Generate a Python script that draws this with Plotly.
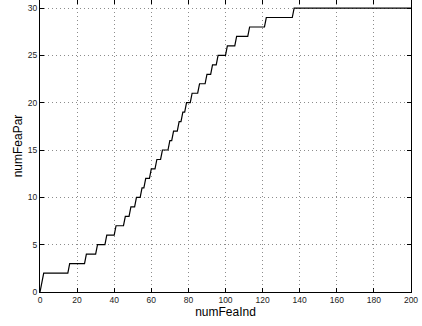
import plotly.graph_objects as go

# Vertices of the step curve (numFeaInd, numFeaPar)
num_fea_ind = [0, 2, 15, 16, 24, 25, 30, 31, 35, 36, 40, 41, 45, 46, 48, 49,
               51, 52, 54, 55, 56, 57, 59, 60, 62, 63, 65, 66, 69, 70, 71, 72,
               74, 75, 76, 77, 78, 79, 81, 82, 85, 86, 89, 90, 92, 93, 95, 96,
               100, 101, 105, 106, 112, 113, 121, 122, 136, 137, 200]
num_fea_par = [0, 2, 2, 3, 3, 4, 4, 5, 5, 6, 6, 7, 7, 8, 8, 9,
               9, 10, 10, 11, 11, 12, 12, 13, 13, 14, 14, 15, 15, 16, 16, 17,
               17, 18, 18, 19, 19, 20, 20, 21, 21, 22, 22, 23, 23, 24, 24, 25,
               25, 26, 26, 27, 27, 28, 28, 29, 29, 30, 30]

x_ticks = [0, 20, 40, 60, 80, 100, 120, 140, 160, 180, 200]
y_ticks = [0, 5, 10, 15, 20, 25, 30]

FONT = "Liberation Sans, Arial, sans-serif"

fig = go.Figure()
fig.add_trace(go.Scatter(x=num_fea_ind, y=num_fea_par, mode="lines",
                         line=dict(color="black", width=1.2),
                         showlegend=False, cliponaxis=False))

axis_common = dict(
    showline=True, linecolor="black", linewidth=1.2, mirror="ticks",
    ticks="inside", ticklen=4, tickcolor="black", tickwidth=1,
    showgrid=True, gridcolor="#8c8c8c", griddash="1px,3px", gridwidth=1,
    zeroline=False, automargin=False,
    tickfont=dict(family=FONT, size=8.5, color="#222"),
)

fig.update_xaxes(range=[0, 200], tickvals=x_ticks,
                 title=dict(text="numFeaInd", standoff=0,
                            font=dict(family=FONT, size=12, color="black")),
                 **axis_common)
fig.update_yaxes(range=[0, 30.85], tickvals=y_ticks,
                 title=dict(text="numFeaPar", standoff=2,
                            font=dict(family=FONT, size=12, color="black")),
                 **axis_common)

fig.update_layout(width=422, height=326,
                  margin=dict(l=40, r=11, t=0, b=34, autoexpand=False),
                  plot_bgcolor="white", paper_bgcolor="white")

fig.write_html("out.html",
               config={"displayModeBar": False},
               post_script="document.body.style.margin='0';document.body.style.overflow='hidden';")
